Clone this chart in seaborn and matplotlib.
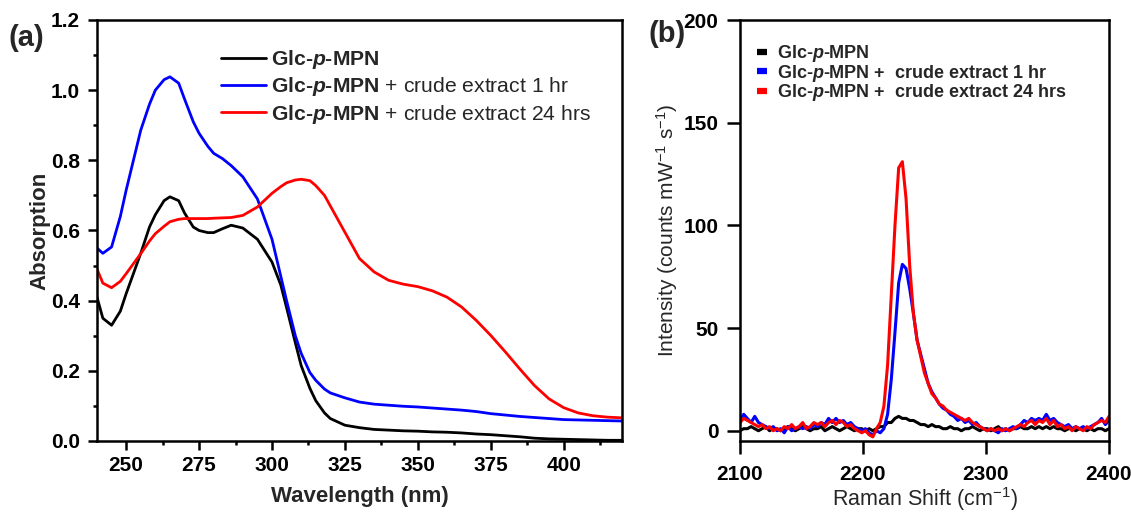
import matplotlib
matplotlib.use("Agg")
import matplotlib.pyplot as plt
import seaborn as sns
import pandas as pd
from matplotlib.lines import Line2D
from matplotlib.ticker import MultipleLocator, FormatStrFormatter

# ---------------- data: panel (a) UV-vis ----------------
wavelength = [240, 242, 245, 248, 250, 255, 258, 260, 263, 265, 268, 270, 273, 275, 278,
              280, 283, 286, 290, 295, 300, 303, 305, 308, 310, 313, 315, 318, 320, 325,
              330, 335, 340, 345, 350, 355, 360, 365, 370, 375, 380, 385, 390, 395, 400,
              405, 410, 415, 420]
abs_glc = [0.41, 0.35, 0.33, 0.37, 0.42, 0.535, 0.61, 0.645, 0.685, 0.696, 0.685, 0.65, 0.61, 0.60, 0.594,
           0.594, 0.605, 0.615, 0.607, 0.575, 0.51, 0.445, 0.38, 0.28, 0.215, 0.15, 0.115, 0.08, 0.064, 0.045,
           0.038, 0.033, 0.031, 0.029, 0.028, 0.026, 0.025, 0.023, 0.020, 0.018, 0.015, 0.012, 0.008, 0.006, 0.005,
           0.004, 0.003, 0.002, 0.002]
abs_1hr = [0.55, 0.535, 0.553, 0.64, 0.715, 0.886, 0.96, 1.0, 1.03, 1.038, 1.02, 0.975, 0.91, 0.877, 0.84,
           0.82, 0.805, 0.785, 0.753, 0.69, 0.575, 0.47, 0.40, 0.30, 0.25, 0.195, 0.173, 0.148, 0.137, 0.123,
           0.111, 0.105, 0.102, 0.099, 0.097, 0.094, 0.091, 0.088, 0.084, 0.078, 0.074, 0.070, 0.067, 0.064, 0.061,
           0.060, 0.059, 0.058, 0.057]
abs_24hr = [0.49, 0.45, 0.437, 0.455, 0.477, 0.534, 0.57, 0.591, 0.612, 0.625, 0.632, 0.634, 0.634, 0.634, 0.634,
            0.635, 0.636, 0.637, 0.643, 0.667, 0.706, 0.725, 0.736, 0.744, 0.746, 0.742, 0.728, 0.70, 0.67, 0.595,
            0.52, 0.482, 0.458, 0.447, 0.44, 0.428, 0.41, 0.382, 0.344, 0.301, 0.254, 0.205, 0.158, 0.12, 0.095,
            0.08, 0.072, 0.068, 0.066]

# ---------------- data: panel (b) Raman ----------------
raman_shift = [2100, 2103, 2106, 2109, 2112, 2115, 2118, 2121, 2124, 2127, 2130, 2133, 2136, 2139, 2142,
               2145, 2148, 2151, 2154, 2157, 2160, 2163, 2166, 2169, 2172, 2175, 2178, 2181, 2184, 2187,
               2190, 2193, 2196, 2199, 2202, 2205, 2208, 2211, 2214, 2217, 2220, 2223, 2226, 2229, 2232,
               2235, 2238, 2241, 2244, 2247, 2250, 2253, 2256, 2259, 2262, 2265, 2268, 2271, 2274, 2277,
               2280, 2283, 2286, 2289, 2292, 2295, 2298, 2301, 2304, 2307, 2310, 2313, 2316, 2319, 2322,
               2325, 2328, 2331, 2334, 2337, 2340, 2343, 2346, 2349, 2352, 2355, 2358, 2361, 2364, 2367,
               2370, 2373, 2376, 2379, 2382, 2385, 2388, 2391, 2394, 2397, 2400]
int_glc = [0, 1, 1, 2, 1, 0, 1, 2, 0, 1, 1, 0, 1, 2, 1,
           0, 1, 2, 1, 0, 1, 1, 2, 0, 1, 2, 1, 0, 1, 2,
           1, 0, 1, 1, 0, 1, 0, 1, 2, 2, 4, 4, 6, 7, 6,
           6, 5, 5, 4, 3, 3, 2, 3, 2, 2, 1, 1, 2, 1, 1,
           0, 1, 1, 2, 1, 0, 1, 1, 0, 1, 2, 0, 1, 0, 1,
           1, 2, 1, 1, 2, 1, 2, 1, 2, 1, 2, 1, 1, 0, 1,
           1, 0, 1, 1, 0, 1, 0, 1, 1, 0, 1]
int_1hr = [5, 8, 6, 4, 7, 4, 3, 2, 1, 2, 0, 1, -1, 2, 0,
           1, 2, 1, 2, 1, 3, 2, 4, 3, 6, 4, 6, 4, 5, 3,
           4, 2, 1, 0, 1, -1, -2, 0, -1, 1, 8, 25, 48, 72, 81,
           79, 69, 57, 44, 37, 30, 23, 19, 16, 13, 11, 10, 8, 7, 5,
           6, 4, 5, 3, 4, 2, 1, 0, 1, 0, -1, 1, 0, 1, 2,
           1, 3, 5, 4, 6, 5, 6, 5, 8, 5, 6, 4, 3, 2, 3,
           1, 2, 1, 2, 1, 2, 3, 4, 6, 3, 5]
int_24hr = [4, 6, 5, 4, 3, 2, 3, 1, 2, 0, 1, 0, 2, 1, 3,
            1, 2, 4, 1, 2, 4, 3, 4, 2, 4, 5, 3, 5, 4, 2,
            3, 1, 0, -1, 0, -2, -3, 1, 4, 12, 32, 66, 100, 128, 131,
            113, 80, 57, 44, 36, 28, 23, 18, 16, 13, 12, 10, 9, 8, 7,
            6, 5, 6, 4, 3, 2, 1, 0, 1, 0, 1, 0, 1, 0, 1,
            2, 3, 2, 4, 5, 3, 5, 4, 6, 3, 5, 2, 3, 1, 2,
            0, 2, 1, 0, 2, 1, 3, 4, 5, 4, 7]

series_names = ["glc", "1hr", "24hr"]
colors = {"glc": "#000000", "1hr": "#0000FF", "24hr": "#FF0000"}

# ---------------- style ----------------
sns.set_theme(style="ticks")
plt.rcParams["font.family"] = ["Liberation Sans", "DejaVu Sans"]
plt.rcParams["mathtext.fontset"] = "custom"
plt.rcParams["mathtext.rm"] = "Liberation Sans"
plt.rcParams["mathtext.it"] = "Liberation Sans:italic"
plt.rcParams["mathtext.bf"] = "Liberation Sans:bold"
plt.rcParams["mathtext.bfit"] = "Liberation Sans:bold:italic"

fig = plt.figure(figsize=(11.31, 5.13), dpi=100)
axa = fig.add_axes([97 / 1131, 1 - 441 / 513, 525 / 1131, 421 / 513])
axb = fig.add_axes([740 / 1131, 1 - 441 / 513, 369 / 1131, 421 / 513])

df_a = pd.DataFrame({
    "x": wavelength * 3,
    "y": abs_glc + abs_1hr + abs_24hr,
    "s": [s for s in series_names for _ in wavelength],
})
df_b = pd.DataFrame({
    "x": raman_shift * 3,
    "y": int_glc + int_1hr + int_24hr,
    "s": [s for s in series_names for _ in raman_shift],
})

sns.lineplot(data=df_a, x="x", y="y", hue="s", palette=colors, hue_order=series_names,
             ax=axa, legend=False, linewidth=2.0, estimator=None, sort=False)
sns.lineplot(data=df_b, x="x", y="y", hue="s", palette=colors, hue_order=series_names,
             ax=axb, legend=False, linewidth=2.2, estimator=None, sort=False)

for ax in (axa, axb):
    for sp in ax.spines.values():
        sp.set_visible(True)
        sp.set_linewidth(1.8)
        sp.set_color("black")

# panel (a) axes
axa.set_xlim(240, 420)
axa.set_ylim(0, 1.2)
axa.set_xticks([250, 275, 300, 325, 350, 375, 400])
axa.xaxis.set_minor_locator(MultipleLocator(12.5))
axa.yaxis.set_major_locator(MultipleLocator(0.2))
axa.yaxis.set_minor_locator(MultipleLocator(0.1))
axa.yaxis.set_major_formatter(FormatStrFormatter("%.1f"))
axa.tick_params(axis="both", which="major", direction="out", length=6.5, width=1.8,
                labelsize=15, color="black", labelcolor="black")
axa.tick_params(axis="both", which="minor", direction="out", length=3.2, width=1.8, color="black")
axa.tick_params(axis="x", which="major", pad=4)
axa.tick_params(axis="y", which="major", pad=6)
axa.set_xlabel("Wavelength (nm)", fontsize=16, fontweight="bold")
axa.set_ylabel("Absorption", fontsize=16, fontweight="bold")
axa.xaxis.label.set_va("center")
axa.yaxis.label.set_va("center")
axa.xaxis.set_label_coords(0.5, -0.133)
axa.yaxis.set_label_coords(-0.109, 0.5)

# panel (b) axes
axb.set_xlim(2100, 2400)
axb.set_ylim(-5, 200)
axb.set_xticks([2100, 2200, 2300, 2400])
axb.set_yticks([0, 50, 100, 150, 200])
axb.tick_params(axis="both", which="major", direction="out", length=9.4, width=1.8,
                labelsize=15, color="black", labelcolor="black")
axb.tick_params(axis="x", which="major", pad=8)
axb.tick_params(axis="y", which="major", pad=6)
axb.set_xlabel(r"Raman Shift (cm$^{-1}$)", fontsize=15.5)
axb.set_ylabel(r"Intensity (counts mW$^{-1}$ s$^{-1}$)", fontsize=15)
axb.xaxis.label.set_va("center")
axb.yaxis.label.set_va("center")
axb.xaxis.set_label_coords(0.5, -0.137)
axb.yaxis.set_label_coords(-0.198, 0.5)

for ax in (axa, axb):
    for lab in ax.get_xticklabels() + ax.get_yticklabels():
        lab.set_fontweight("bold")

# legends
labels_a = [r"Glc-$\mathbfit{p}$-MPN",
            r"Glc-$\mathbfit{p}$-MPN$\text{ + crude extract 1 hr}$",
            r"Glc-$\mathbfit{p}$-MPN$\text{ + crude extract 24 hrs}$"]
handles_a = [Line2D([0], [0], color=colors[s], lw=2.0) for s in series_names]
axa.legend(handles_a, labels_a, loc="upper left", bbox_to_anchor=(0.236, 0.933),
           frameon=False, borderpad=0, borderaxespad=0, handlelength=2.15,
           handletextpad=0.2, labelspacing=0.2,
           prop={"size": 15.2, "weight": "bold"})

labels_b = [r"Glc-$\mathbfit{p}$-MPN",
            r"Glc-$\mathbfit{p}$-MPN +  crude extract 1 hr",
            r"Glc-$\mathbfit{p}$-MPN +  crude extract 24 hrs"]
handles_b = [Line2D([0], [0], color=colors[s], lw=4.5, solid_capstyle="butt") for s in series_names]
axb.legend(handles_b, labels_b, loc="upper left", bbox_to_anchor=(0.046, 0.945),
           frameon=False, borderpad=0, borderaxespad=0, handlelength=0.55,
           handletextpad=0.55, labelspacing=-0.08,
           prop={"size": 13, "weight": "bold"})

fig.text(8 / 1131, 1 - 38.5 / 513, "(a)", fontsize=21, fontweight="bold", va="center", ha="left")
fig.text(648 / 1131, 1 - 34.5 / 513, "(b)", fontsize=21, fontweight="bold", va="center", ha="left")

fig.savefig("out.png", dpi=100)
